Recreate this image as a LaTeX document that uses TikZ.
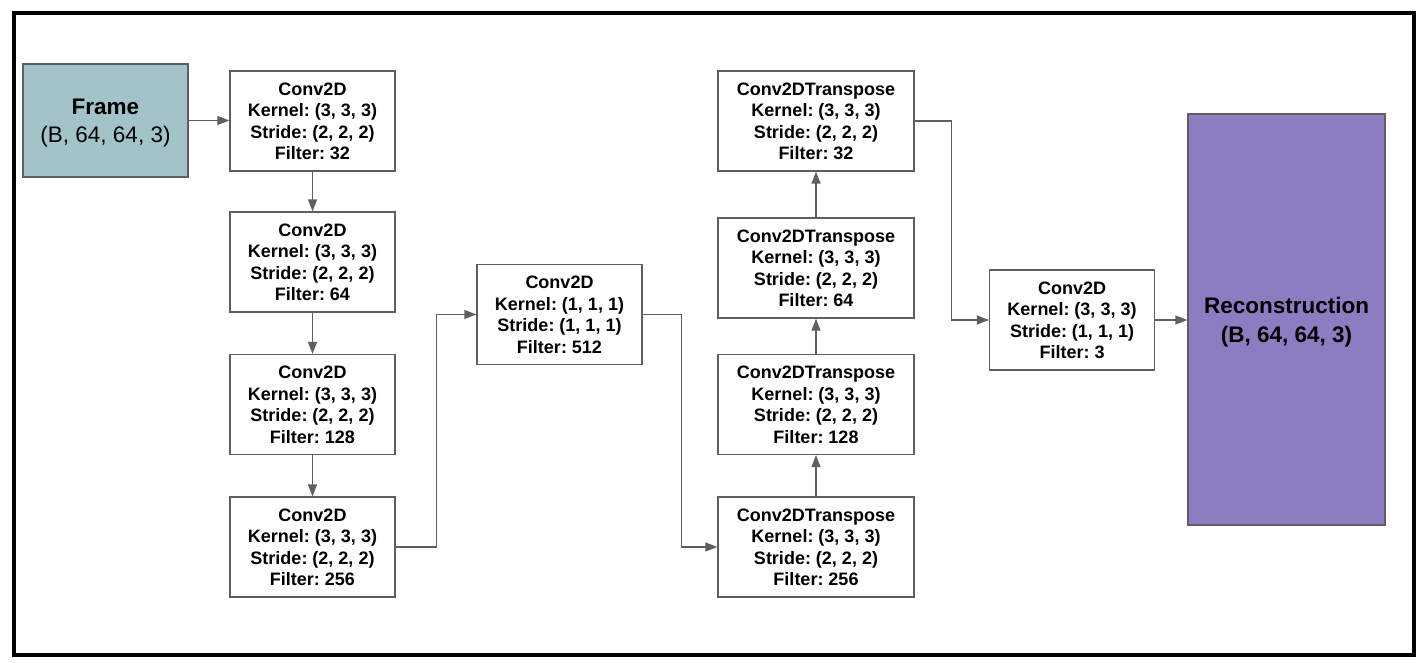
\documentclass[tikz,border=0pt]{standalone}
\usepackage{fontspec}
\setmainfont{Liberation Sans}
\usetikzlibrary{calc}
\usetikzlibrary{arrows.meta}

\definecolor{corframe}{HTML}{A2C4C9}
\definecolor{correc}{HTML}{8E7CC3}
\definecolor{corlinha}{HTML}{5F5F5F}

\tikzset{
  camada/.style={draw=corlinha, line width=1.3pt, fill=white,
    minimum width=165pt, minimum height=100pt, inner sep=0pt,
    text depth=-2pt, align=center,
    font=\frenchspacing\bfseries\fontsize{18}{21.5}\selectfont},
  transp/.style={camada, minimum width=196pt},
  seta/.style={draw=corlinha, line width=1.3pt,
    -{Triangle[length=12pt, width=9pt]}},
}

\begin{document}
\begin{tikzpicture}[x=1pt, y=-1pt]

  %--------------------------------------------
  % Area total e moldura externa
  %--------------------------------------------
  \useasboundingbox (0,0) rectangle (1423,663);
  \draw[line width=4pt] (14,13) rectangle (1414,655);

  %--------------------------------------------
  % Entrada
  %--------------------------------------------
  \node[draw=corlinha, line width=1.3pt, fill=corframe, minimum width=165pt,
    minimum height=113pt, align=center, text depth=-3pt,
    font=\frenchspacing\fontsize{22.5}{28}\selectfont]
    (frame) at (105.5,120.5) {\textbf{Frame}\\(B, 64, 64, 3)};

  %--------------------------------------------
  % Codificador: cada par (i/y/f) indica
  %   i -> indice da camada
  %   y -> posicao vertical
  %   f -> numero de filtros
  %--------------------------------------------
  \foreach \i/\y/\f in {1/121/32, 2/262/64, 3/404.5/128, 4/547/256}
  {
    \node[camada] (enc\i) at (312.5,\y)
      {Conv2D\\Kernel: (3, 3, 3)\\Stride: (2, 2, 2)\\Filter: \f};
  }

  % Camada central
  \node[camada] (meio) at (559.5,314.5)
    {Conv2D\\Kernel: (1, 1, 1)\\Stride: (1, 1, 1)\\Filter: 512};

  %--------------------------------------------
  % Decodificador (de baixo para cima)
  %--------------------------------------------
  \foreach \i/\y/\f in {1/547/256, 2/404.5/128, 3/268/64, 4/121/32}
  {
    \node[transp] (dec\i) at (816,\y)
      {Conv2DTranspose\\Kernel: (3, 3, 3)\\Stride: (2, 2, 2)\\Filter: \f};
  }

  % Camada final
  \node[camada] (final) at (1072,320)
    {Conv2D\\Kernel: (3, 3, 3)\\Stride: (1, 1, 1)\\Filter: 3};

  % Saida
  \node[draw=corlinha, line width=1.3pt, fill=correc, minimum width=197pt,
    minimum height=411pt, align=center, text depth=-4pt,
    font=\frenchspacing\bfseries\fontsize{22.5}{29}\selectfont]
    (rec) at (1286.5,319.5) {Reconstruction\\(B, 64, 64, 3)};

  %--------------------------------------------
  % Conexoes
  %--------------------------------------------
  \draw[seta] (frame.east) -- (frame.east -| enc1.west);

  \foreach \a/\b in {1/2, 2/3, 3/4}
  {
    \draw[seta] (enc\a.south) -- (enc\b.north);
  }

  \draw[seta] (enc4.east) -- ++(41,0) |- (meio.west);
  \draw[seta] (meio.east) -- ++(39,0) |- (dec1.west);

  \foreach \a/\b in {1/2, 2/3, 3/4}
  {
    \draw[seta] (dec\a.north) -- (dec\b.south);
  }

  \draw[seta] (dec4.east) -- ++(37,0) |- (final.west);
  \draw[seta] (final.east) -- (rec.west |- final.east);

\end{tikzpicture}
\end{document}
